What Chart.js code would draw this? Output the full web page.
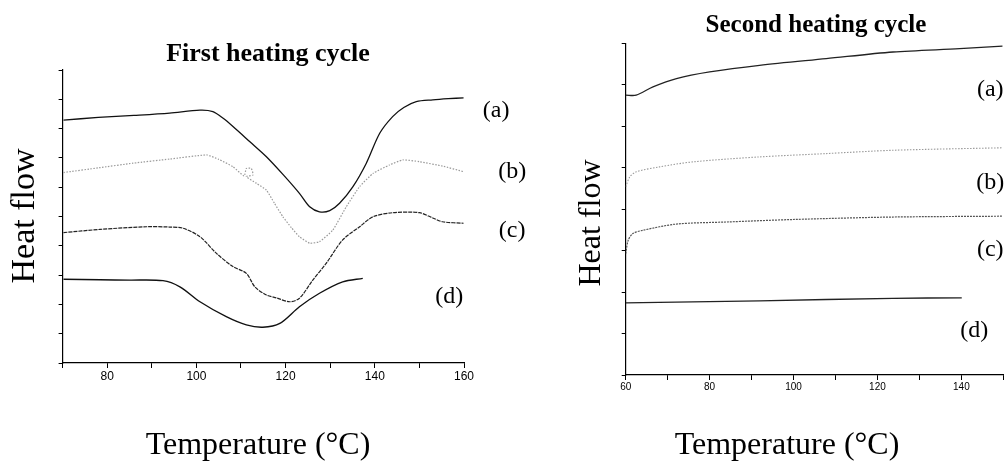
<!DOCTYPE html>
<html>
<head>
<meta charset="utf-8">
<script src="https://cdn.jsdelivr.net/npm/chart.js@4.4.1/dist/chart.umd.min.js"></script>
<style>
  body { margin: 0; background: #fff; }
  #wrap { position: relative; width: 1008px; height: 461px; overflow: hidden; }
  #first { position: absolute; left: 0; top: 0; }
  #second { position: absolute; left: 560px; top: 0; }
</style>
</head>
<body>
<div id="wrap">
  <canvas id="first" width="560" height="461"></canvas>
  <canvas id="second" width="448" height="461"></canvas>
</div>
<script>
// ---- data ----
const curveNames = ["(a)", "(b)", "(c)", "(d)"];

// first heating cycle
const tempA1 = [70.2, 78, 86, 94, 100.8, 103.7, 106, 108.2, 112, 115.7, 119.5, 123.1, 125.4, 127.6, 129.9, 132.1, 135.1, 138.1, 141.1, 144.0, 146.5, 149.3, 153.0, 156.5, 159.9];
const heatA1 = [8.29, 8.38, 8.45, 8.53, 8.63, 8.58, 8.35, 8.07, 7.55, 7.04, 6.42, 5.79, 5.33, 5.16, 5.20, 5.45, 6.02, 6.82, 7.84, 8.41, 8.72, 8.92, 8.98, 9.02, 9.05];
const tempB1 = [70.2, 78, 85.8, 94, 102.3, 105, 108.2, 110.7, 111.2, 112.3, 112.7, 111.2, 113.5, 115.7, 117.5, 119.4, 121.3, 123.1, 125.4, 127.6, 130.6, 133.6, 136.6, 139.6, 143.3, 146.3, 150.0, 155.2, 159.9];
const heatB1 = [6.50, 6.66, 6.82, 6.96, 7.10, 6.95, 6.70, 6.38, 6.64, 6.64, 6.42, 6.36, 6.13, 5.90, 5.45, 4.99, 4.62, 4.31, 4.09, 4.14, 4.54, 5.33, 6.02, 6.47, 6.76, 6.93, 6.87, 6.72, 6.53];
const tempC1 = [70.2, 78.4, 88.8, 94, 97.0, 100.8, 104.5, 108.2, 111.2, 113.1, 115.7, 118, 120.9, 123.1, 126.1, 129.1, 132.8, 136.6, 139.6, 144.0, 150.0, 153, 155.2, 159.9];
const heatC1 = [4.45, 4.56, 4.65, 4.64, 4.60, 4.31, 3.74, 3.29, 3.06, 2.60, 2.32, 2.22, 2.09, 2.21, 2.83, 3.40, 4.20, 4.65, 4.99, 5.13, 5.13, 4.95, 4.82, 4.77];
const tempD1 = [70.2, 78.4, 85, 92.5, 96.3, 100.8, 106.7, 111.2, 114.9, 118.7, 123.1, 127.6, 132.8, 137.3];
const heatD1 = [2.86, 2.84, 2.83, 2.81, 2.60, 2.09, 1.58, 1.30, 1.22, 1.35, 1.92, 2.38, 2.77, 2.89];
const labelTemp1 = [167.2, 170.8, 170.8, 156.7];
const labelHeat1 = [8.60, 6.52, 4.51, 2.25];

// second heating cycle
const tempA2 = [60, 62.5, 66.5, 72.1, 80, 91.9, 107.8, 123.7, 139.6, 149.8];
const heatA2 = [6.75, 6.75, 6.95, 7.15, 7.31, 7.47, 7.63, 7.79, 7.87, 7.93];
const tempB2 = [60, 61, 62.5, 68.1, 76, 91.9, 107.8, 123.7, 149.8];
const heatB2 = [4.54, 4.78, 4.90, 5.02, 5.14, 5.26, 5.34, 5.42, 5.48];
const tempC2 = [60, 60.6, 61.7, 64.1, 72.1, 84, 99.8, 123.7, 149.8];
const heatC2 = [2.93, 3.25, 3.41, 3.49, 3.64, 3.69, 3.75, 3.81, 3.83];
const tempD2 = [60, 91.9, 123.7, 140.1];
const heatD2 = [1.74, 1.79, 1.85, 1.86];
const labelTemp2 = [146.9, 146.9, 146.9, 143.1];
const labelHeat2 = [6.87, 4.63, 3.01, 1.08];

const serif = '"Liberation Serif", "Times New Roman", serif';
const pts = (xs, ys) => xs.map((x, i) => ({ x: x, y: ys[i] }));

// titles, axis titles and the (a)..(d) tags
const textPlugin = {
  id: "textPlugin",
  afterDraw(chart, args, o) {
    const ctx = chart.ctx;
    const xs = chart.scales.x, ys = chart.scales.y;
    ctx.save();
    ctx.fillStyle = "#000";
    ctx.textAlign = "center";
    ctx.textBaseline = "alphabetic";
    ctx.font = "bold " + o.titleSize + "px " + serif;
    ctx.fillText(o.title, o.titleX, o.titleY);
    ctx.font = "32px " + serif;
    ctx.fillText("Temperature (°C)", o.xTitleX, 454);
    ctx.save();
    ctx.font = o.yTitleSize + "px " + serif;
    ctx.translate(o.yTitleX, o.yTitleY);
    ctx.rotate(-Math.PI / 2);
    ctx.fillText("Heat flow", 0, 0);
    ctx.restore();
    ctx.font = "24px " + serif;
    ctx.textBaseline = "middle";
    o.temps.forEach((t, i) => {
      ctx.fillText(curveNames[i], xs.getPixelForValue(t), ys.getPixelForValue(o.heats[i]));
    });
    ctx.restore();
  },
};

function line(data, color, width, dash, tension) {
  return {
    data: data,
    borderColor: color,
    borderWidth: width,
    borderDash: dash,
    pointRadius: 0,
    tension: tension,
    fill: false,
  };
}

function makeChart(id, datasets, xr, yMax, tickFont, padding, text) {
  new Chart(document.getElementById(id), {
    type: "line",
    data: { datasets: datasets },
    options: {
      responsive: false,
      animation: false,
      devicePixelRatio: 1,
      layout: { padding: padding, autoPadding: false },
      plugins: { legend: { display: false }, tooltip: { enabled: false }, textPlugin: text },
      scales: {
        x: {
          type: "linear",
          min: xr[0],
          max: xr[1],
          afterFit: (s) => { s.height = 30; },
          border: { display: true, color: "#000", width: 1.2 },
          grid: { drawOnChartArea: false, drawTicks: true, tickLength: 5, color: "#000" },
          ticks: {
            stepSize: 10,
            padding: 1,
            color: "#000",
            font: { family: '"Liberation Sans", Arial, sans-serif', size: tickFont },
            maxRotation: 0,
            autoSkip: false,
            callback: (v) => (v % 20 === 0 ? v : ""),
          },
        },
        y: {
          min: 0,
          max: yMax,
          afterFit: (s) => { s.width = 10; },
          border: { display: true, color: "#000", width: 1.2 },
          grid: { drawOnChartArea: false, drawTicks: true, tickLength: 4, color: "#000" },
          ticks: { stepSize: 1, display: false },
        },
      },
    },
    plugins: [textPlugin],
  });
}

makeChart("first", [
  line(pts(tempA1, heatA1), "#111", 1.3, [], 0.3),
  line(pts(tempB1, heatB1), "#9a9a9a", 1.2, [1.5, 1.5], 0.15),
  line(pts(tempC1, heatC1), "#222", 1.2, [4, 1], 0.3),
  line(pts(tempD1, heatD1), "#111", 1.4, [], 0.3),
], [70, 160], 10, 12,
  { left: 52.6, right: 96, top: 70, bottom: 68 },
  { title: "First heating cycle", titleSize: 26, titleX: 268, titleY: 61,
    xTitleX: 258, yTitleX: 34, yTitleY: 216, yTitleSize: 34,
    temps: labelTemp1, heats: labelHeat1 });

makeChart("second", [
  line(pts(tempA2, heatA2), "#222", 1.3, [], 0.3),
  line(pts(tempB2, heatB2), "#999", 1.1, [1.5, 1.5], 0.3),
  line(pts(tempC2, heatC2), "#555", 1.2, [2, 1], 0.3),
  line(pts(tempD2, heatD2), "#222", 1.3, [], 0.3),
], [60, 150], 8, 10,
  { left: 55.7, right: 4.7, top: 43.3, bottom: 56 },
  { title: "Second heating cycle", titleSize: 25, titleX: 256, titleY: 32,
    xTitleX: 227, yTitleX: 40, yTitleY: 223, yTitleSize: 32,
    temps: labelTemp2, heats: labelHeat2 });
</script>
</body>
</html>
